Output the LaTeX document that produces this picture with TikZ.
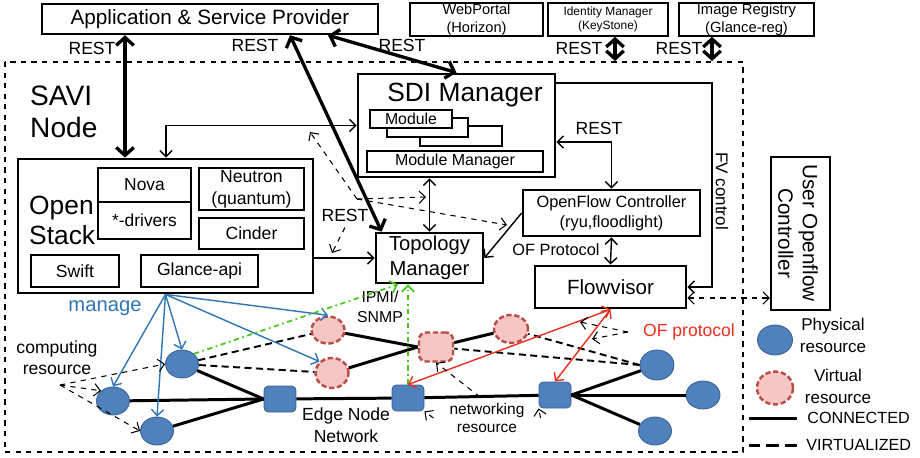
\documentclass[tikz,border=0pt]{standalone}
\usepackage{fontspec}
\setmainfont{Liberation Sans}
\usetikzlibrary{arrows.meta,shapes.geometric}

\definecolor{physblue}{RGB}{79,129,189}
\definecolor{physedge}{RGB}{58,98,148}
\definecolor{virtpink}{RGB}{245,198,196}
\definecolor{virtedge}{RGB}{184,78,72}
\definecolor{manblue}{RGB}{46,117,182}
\definecolor{ipmigreen}{RGB}{72,200,30}
\definecolor{ofred}{RGB}{232,48,30}

\tikzset{
  box/.style={draw, line width=0.9pt, inner sep=0pt, align=center},
  mainbox/.style={draw, line width=1.6pt, inner sep=0pt, align=center},
  thinbox/.style={draw, line width=0.6pt, inner sep=0pt, align=center, fill=white},
  arr/.style={line width=0.8pt},
  bigarr/.style={line width=1.9pt, >={Straight Barb[length=4.5pt,width=10pt]}},
  dasharr/.style={dashed, line width=0.6pt, ->},
  conn/.style={line width=1.7pt},
  virt/.style={line width=1.1pt, dash pattern=on 4pt off 2.5pt},
  phys/.style={ellipse, fill=physblue, draw=physedge, line width=0.5pt, inner sep=0pt},
  physsq/.style={rectangle, rounded corners=2.5pt, fill=physblue, draw=physedge, line width=0.5pt, inner sep=0pt, minimum width=0.64cm, minimum height=0.52cm},
  vres/.style={ellipse, fill=virtpink, draw=virtedge, line width=1.4pt, dash pattern=on 3pt off 1.5pt, inner sep=0pt},
  vressq/.style={rectangle, rounded corners=4pt, fill=virtpink, draw=virtedge, line width=1.4pt, dash pattern=on 3pt off 1.5pt, inner sep=0pt},
  lbl/.style={font=\fontsize{10}{12}\selectfont, align=center}
}

\begin{document}
\begin{tikzpicture}[x=0.02cm, y=-0.02cm, >={Straight Barb[length=3.5pt,width=7pt]}]
    \useasboundingbox (0,0) rectangle (920,457);

    % Provider and OpenStack services on top
    \node[mainbox, line width=1.4pt, minimum width=6.72cm, minimum height=0.6cm, font=\fontsize{11.8}{14}\selectfont] (app) at (210,19) {Application \& Service Provider};
    \node[box, minimum width=2.66cm, minimum height=0.66cm, font=\fontsize{8.3}{10}\selectfont] (web) at (476.5,19.5) {WebPortal\\(Horizon)};
    \node[box, minimum width=2.4cm, minimum height=0.66cm, font=\fontsize{6.8}{8}\selectfont] (ident) at (608,19.5) {Identity Manager\\(KeyStone)};
    \node[box, minimum width=2.7cm, minimum height=0.66cm, font=\fontsize{8.4}{10}\selectfont] (image) at (746.5,19.5) {Image Registry\\(Glance-reg)};

    % SAVI node
    \draw[dashed, line width=0.9pt] (5,62) rectangle (743,452);
    \node[font=\fontsize{16}{18.5}\selectfont, align=left, anchor=west] (savi) at (24,112) {SAVI\\Node};
    \coordinate (kin) at (615,61);
    \coordinate (gin) at (712,61);

    % SDI manager
    \node[mainbox, minimum width=3.94cm, minimum height=2.06cm] (sdi) at (456.5,125.5) {};
    \node[font=\fontsize{15}{18}\selectfont] (sditxt) at (465,95) {SDI Manager};
    \node[thinbox, minimum width=1.64cm, minimum height=0.4cm] (mod3) at (461,136) {};
    \node[thinbox, minimum width=1.62cm, minimum height=0.38cm] (mod2) at (427.5,127.5) {};
    \node[thinbox, minimum width=1.64cm, minimum height=0.36cm, font=\fontsize{9}{11}\selectfont] (mod1) at (411,119) {Module};
    \node[thinbox, minimum width=3.52cm, minimum height=0.42cm, font=\fontsize{9.1}{11}\selectfont] (modmgr) at (455,161.5) {Module Manager};

    % OpenStack
    \node[mainbox, minimum width=5.9cm, minimum height=2.68cm] (ostack) at (165.5,226) {};
    \node[font=\fontsize{15}{17}\selectfont, align=left, anchor=west] (ostxt) at (23,220) {Open\\Stack};
    \node[box, minimum width=1.86cm, minimum height=0.68cm, font=\fontsize{9.9}{12}\selectfont] (nova) at (144.5,185) {Nova};
    \node[box, minimum width=1.86cm, minimum height=0.74cm, font=\fontsize{9.9}{12}\selectfont] (drivers) at (144.5,220.5) {*-drivers};
    \node[box, minimum width=2.1cm, minimum height=0.84cm, font=\fontsize{10}{12.5}\selectfont] (neutron) at (251.5,189) {Neutron\\(quantum)};
    \node[box, minimum width=2.1cm, minimum height=0.62cm, font=\fontsize{10}{12}\selectfont] (cinder) at (251.5,233.5) {Cinder};
    \node[box, minimum width=1.76cm, minimum height=0.64cm, font=\fontsize{10}{12}\selectfont] (swift) at (75,271) {Swift};
    \node[box, minimum width=2.34cm, minimum height=0.64cm, font=\fontsize{10}{12}\selectfont] (glance) at (199.5,271) {Glance-api};

    % controllers
    \node[mainbox, minimum width=2.14cm, minimum height=1cm, font=\fontsize{11.5}{14}\selectfont] (topo) at (429.5,258) {Topology\\Manager};
    \node[mainbox, minimum width=3.54cm, minimum height=0.92cm, font=\fontsize{9.3}{11.4}\selectfont] (ofc) at (611.5,213) {OpenFlow Controller\\(ryu,floodlight)};
    \node[mainbox, minimum width=3.02cm, minimum height=0.84cm, font=\fontsize{11.7}{14}\selectfont] (flow) at (610.5,287) {Flowvisor};
    \node[mainbox, line width=1.2pt, minimum width=1.18cm, minimum height=3.06cm] (user) at (800.5,233.5) {};
    \node[font=\fontsize{11.8}{14}\selectfont, align=center, rotate=-90] (usertxt) at (798,233) {User Openflow\\Controller};

    % REST links
    \draw[bigarr, <->] (125,0 |- app.south) -- (125,0 |- ostack.north);
    \draw[bigarr, <->] (290,0 |- app.south) -- ([xshift=0.14cm]topo.north west);
    \draw[bigarr, <->] (328,0 |- app.south) -- (sdi.north);
    \draw[bigarr, <->] (615,0 |- ident.south) -- (kin);
    \draw[bigarr, <->] (712,0 |- image.south) -- (gin);
    \node[lbl] (rest1) at (92,48) {REST};
    \node[lbl] (rest2) at (255,45) {REST};
    \node[lbl] (rest3) at (402,45) {REST};
    \node[lbl] (rest4) at (579,48) {REST};
    \node[lbl] (rest5) at (679,48) {REST};

    % control links
    \draw[arr, <->] (sdi.west) -| (166,0 |- ostack.north);
    \draw[arr, <->] (topo.north |- sdi.south) -- (topo.north);
    \draw[arr, <->] (sdi.east |- 0,142) -| (ofc.north);
    \node[lbl] (rest6) at (599,128) {REST};
    \draw[arr, ->] (sdi.east |- 0,83) -| (712,0 |- flow.east) -- (flow.east);
    \node[font=\fontsize{9.7}{12}\selectfont, rotate=-90] (fvc) at (722,191) {FV control};
    \draw[arr, ->] (ostack.east |- topo.west) -- (topo.west);
    \draw[arr, ->] (ofc.west) -- (topo.east);
    \draw[arr, <->] (ofc.south) -- (flow.north);
    \node[font=\fontsize{9.3}{11}\selectfont] (ofproto) at (556,250) {OF Protocol};
    \draw[dasharr, <->] (flow.east |- 0,298) -- (user.west |- 0,298);

    % dashed REST hints
    \node[lbl] (rest7) at (345,215) {REST};
    \coordinate (rhub) at (357,199);
    \coordinate (rtoA) at (310,132);
    \coordinate (rtoB) at (426,197);
    \coordinate (rtoC) at (507,225);
    \coordinate (rtoD) at (332,253);
    \draw[dasharr] (rhub) -- (rtoA);
    \draw[dasharr] (rhub) -- (rtoB);
    \draw[dasharr] (rhub) -- (rtoC);
    \draw[dasharr] (rest7.south) -- (rtoD);

    % resources
    \node[phys, minimum width=0.66cm, minimum height=0.56cm] (p1) at (182,364) {};
    \node[phys, minimum width=0.66cm, minimum height=0.56cm] (p2) at (113,401) {};
    \node[phys, minimum width=0.66cm, minimum height=0.56cm] (p3) at (157,431) {};
    \node[phys, minimum width=0.68cm, minimum height=0.6cm] (r1) at (657,365) {};
    \node[phys, minimum width=0.68cm, minimum height=0.56cm] (r2) at (703,395) {};
    \node[phys, minimum width=0.66cm, minimum height=0.56cm] (r3) at (655,431) {};
    \node[physsq] (s1) at (280,399) {};
    \node[physsq] (s2) at (408,398) {};
    \node[physsq] (s3) at (555,395) {};
    \node[vres, minimum width=0.66cm, minimum height=0.54cm] (v1) at (328,330) {};
    \node[vres, minimum width=0.66cm, minimum height=0.6cm] (v2) at (332,373) {};
    \node[vressq, minimum width=0.68cm, minimum height=0.58cm] (v3) at (436,347) {};
    \node[vres, minimum width=0.68cm, minimum height=0.56cm] (v4) at (511,329) {};

    % physical links
    \draw[conn] (p1) -- (s1.west);
    \draw[conn] (p2) -- (s1.west);
    \draw[conn] (p3) -- (s1.west);
    \draw[conn] (s1) -- (s2);
    \draw[conn] (s2) -- (s3);
    \draw[conn] (s3.east) -- (r1);
    \draw[conn] (s3.east) -- (r2);
    \draw[conn] (s3.east) -- (r3);
    \draw[conn] (v1) -- (v3.west);
    \draw[conn] (v2) -- (v3.west);
    \draw[conn] (v3) -- (v4);

    % virtual links
    \draw[virt] (p1) -- (v1);
    \draw[virt] (p1) -- (v2);
    \draw[virt] (r1.west) -- (v4);
    \draw[virt] (r1.west) -- (v3);

    % manage arrows
    \node[font=\fontsize{11.5}{14}\selectfont, text=manblue] (manage) at (105,308) {manage};
    \draw[arr, draw=manblue, ->] (ostack.south) -- (p2.north);
    \draw[arr, draw=manblue, ->] (ostack.south) -- (p3.north);
    \draw[arr, draw=manblue, ->] (ostack.south) -- (p1.north);
    \draw[arr, draw=manblue, ->] (ostack.south) -- (v1.north);
    \draw[arr, draw=manblue, ->] (ostack.south) -- (v2.north west);

    % IPMI / SNMP
    \node[font=\fontsize{9}{11}\selectfont, align=center] (ipmi) at (380,307) {IPMI/\\SNMP};
    \draw[line width=1pt, draw=ipmigreen, dash dot, ->] (p1.north east) -- ([xshift=-0.63cm]topo.south);
    \draw[line width=1pt, draw=ipmigreen, dash dot, ->] (s2.north) -- (s2.north |- topo.south);

    % OF protocol
    \draw[arr, draw=ofred, <->] (flow.south) -- (s2.north);
    \draw[arr, draw=ofred, <->] (flow.south) -- (s3.north);
    \node[font=\fontsize{10}{12}\selectfont, text=ofred] (ofp) at (689,332) {OF protocol};
    \coordinate (ofA) at (580,322);
    \coordinate (ofB) at (592,339);
    \draw[dasharr] ([xshift=-0.18cm]ofp.west) -- (ofA);
    \draw[dasharr] ([xshift=-0.18cm]ofp.west) -- (ofB);

    % resource labels
    \node[lbl] (cres) at (57,358) {computing\\resource};
    \coordinate (chub) at (60,385);
    \draw[dasharr] (chub) -- (p1.west);
    \draw[dasharr] (chub) -- (p2.north west);
    \draw[dasharr] (chub) -- (p3.west);
    \node[font=\fontsize{8.8}{10.4}\selectfont, align=center] (nres) at (487,418) {networking\\resource};
    \draw[dasharr] ([xshift=-0.2cm]nres.west) -- (s2.south east);
    \draw[dasharr] ([xshift=-0.14cm]nres.north) -- (v3.south);
    \draw[dasharr] ([xshift=0.2cm]nres.east) -- (s3.south west);
    \node[lbl, font=\fontsize{10}{12.5}\selectfont] (edge) at (346,425) {Edge Node\\Network};

    % legend
    \node[phys, minimum width=0.7cm, minimum height=0.6cm] (lp) at (775,340) {};
    \node[font=\fontsize{9.7}{12.5}\selectfont, align=center] (lptxt) at (833,335) {Physical\\resource};
    \node[vres, minimum width=0.72cm, minimum height=0.66cm] (lv) at (775,388) {};
    \node[font=\fontsize{9.7}{12.5}\selectfont, align=center] (lvtxt) at (838,386) {Virtual\\resource};
    \node[font=\fontsize{9.2}{11}\selectfont, anchor=west, inner sep=0pt] (lcon) at (807,418) {CONNECTED};
    \node[font=\fontsize{9.2}{11}\selectfont, anchor=west, inner sep=0pt] (lvir) at (806,445) {VIRTUALIZED};
    \draw[conn] ([xshift=-0.2cm]lcon.west) -- ++(-48,0);
    \draw[line width=1.7pt, dash pattern=on 7pt off 3.5pt] ([xshift=-0.18cm]lvir.west) -- ++(-48,0);
\end{tikzpicture}
\end{document}
